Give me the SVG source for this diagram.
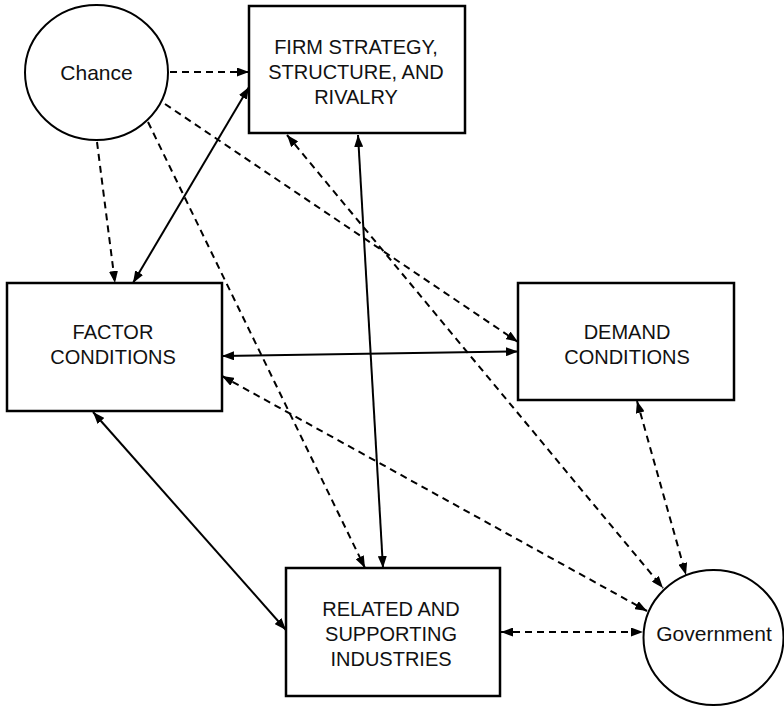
<svg xmlns="http://www.w3.org/2000/svg" width="784" height="707" viewBox="0 0 784 707">
  <style>
    .box { fill: #fff; stroke: #000; stroke-width: 2.5; }
    .oval { fill: #fff; stroke: #000; stroke-width: 2; }
    .label { font-family: "Liberation Sans", Arial, Helvetica, sans-serif; font-size: 20px; fill: #111; text-anchor: middle; }
    .olabel { font-family: "Liberation Sans", Arial, Helvetica, sans-serif; font-size: 21px; fill: #111; text-anchor: middle; }
    .solid { fill: none; stroke: #000; stroke-width: 2; }
    .dash { fill: none; stroke: #000; stroke-width: 2; stroke-dasharray: 7 5; }
    .one { marker-end: url(#head); }
    .two { marker-start: url(#head); marker-end: url(#head); }
  </style>
  <defs>
    <marker id="head" viewBox="0 0 12 9" refX="12" refY="4.5" markerWidth="12" markerHeight="9" markerUnits="userSpaceOnUse" orient="auto-start-reverse">
      <path d="M0,0 L12,4.5 L0,9 z" fill="#000"/>
    </marker>
  </defs>
  <rect width="784" height="707" fill="#fff"/>

  <!-- connectors -->
  <g id="connectors">
    <path class="dash one" d="M170,72 L249,72"/>
    <path class="dash one" d="M97,142 L115,283"/>
    <path class="dash one" d="M148,122 L365,568"/>
    <path class="dash one" d="M165,104 L518,342"/>
    <path class="solid two" d="M249,87 L133,283"/>
    <path class="solid two" d="M358,135 L383,568"/>
    <path class="dash two" d="M287,135 L663,588"/>
    <path class="solid two" d="M222,356 L518,351.5"/>
    <path class="solid two" d="M93,412 L286,630"/>
    <path class="dash two" d="M222,376 L647,611"/>
    <path class="dash two" d="M637,401 L686,575"/>
    <path class="dash two" d="M501,632 L643,632"/>
  </g>

  <!-- nodes -->
  <g id="chance">
    <ellipse class="oval" cx="96.5" cy="72.5" rx="71.5" ry="67.5"/>
    <text class="olabel" x="96.5" y="80">Chance</text>
  </g>
  <g id="firm">
    <rect class="box" x="249" y="6" width="216" height="127"/>
    <text class="label" x="356" y="54">FIRM STRATEGY,</text>
    <text class="label" x="356" y="79">STRUCTURE, AND</text>
    <text class="label" x="356" y="104">RIVALRY</text>
  </g>
  <g id="factor">
    <rect class="box" x="7" y="283" width="215" height="128"/>
    <text class="label" x="113" y="339">FACTOR</text>
    <text class="label" x="113" y="364">CONDITIONS</text>
  </g>
  <g id="demand">
    <rect class="box" x="518" y="283" width="216" height="117"/>
    <text class="label" x="627" y="339">DEMAND</text>
    <text class="label" x="627" y="364">CONDITIONS</text>
  </g>
  <g id="related">
    <rect class="box" x="286" y="568" width="214" height="128"/>
    <text class="label" x="391" y="616">RELATED AND</text>
    <text class="label" x="391" y="641">SUPPORTING</text>
    <text class="label" x="391" y="666">INDUSTRIES</text>
  </g>
  <g id="government">
    <ellipse class="oval" cx="713.5" cy="637.5" rx="70" ry="67.5"/>
    <text class="olabel" x="714" y="641">Government</text>
  </g>
</svg>
